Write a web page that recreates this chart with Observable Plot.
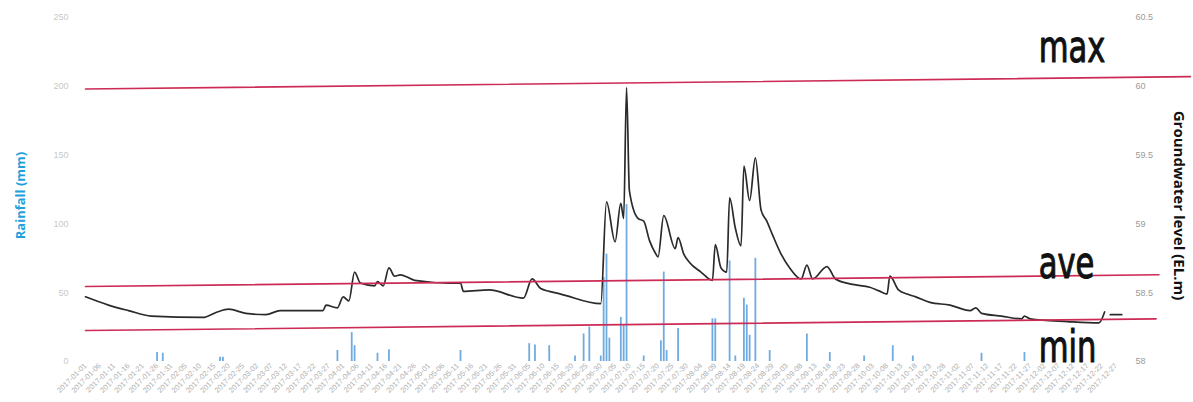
<!DOCTYPE html>
<html>
<head>
<meta charset="utf-8">
<script src="https://cdn.jsdelivr.net/npm/d3@7"></script>
<script src="https://cdn.jsdelivr.net/npm/@observablehq/plot@0.6"></script>
<style>
  html, body { margin: 0; padding: 0; background: #fff; }
  #chart svg { display: block; }
</style>
</head>
<body>
<div id="chart"></div>
<script>
// Daily groundwater level (EL.m) at the observation well, key turning points
const gwDates = [
  "2017-01-01","2017-01-09","2017-01-16","2017-01-24","2017-02-11","2017-02-16","2017-02-20","2017-02-26",
  "2017-03-05","2017-03-10","2017-03-25","2017-03-26","2017-03-30","2017-04-01","2017-04-03","2017-04-05",
  "2017-04-07","2017-04-12","2017-04-13","2017-04-15","2017-04-17","2017-04-19","2017-04-21","2017-04-26",
  "2017-05-08","2017-05-12","2017-05-13","2017-05-22","2017-06-03","2017-06-06","2017-06-09","2017-06-12",
  "2017-06-16","2017-06-30","2017-07-02","2017-07-05","2017-07-07","2017-07-08","2017-07-09","2017-07-10",
  "2017-07-13","2017-07-15","2017-07-17","2017-07-19","2017-07-20","2017-07-22","2017-07-26","2017-07-27",
  "2017-07-29","2017-07-31","2017-08-04","2017-08-08","2017-08-09","2017-08-11","2017-08-13","2017-08-14",
  "2017-08-16","2017-08-18","2017-08-19","2017-08-21","2017-08-23","2017-08-25","2017-08-27","2017-08-29",
  "2017-09-01","2017-09-04","2017-09-08","2017-09-10","2017-09-12","2017-09-17","2017-09-20","2017-09-26",
  "2017-10-02","2017-10-05","2017-10-08","2017-10-09","2017-10-12","2017-10-15","2017-10-18","2017-10-23",
  "2017-10-30","2017-11-06","2017-11-08","2017-11-10","2017-11-17","2017-11-24","2017-11-25","2017-11-27",
  "2017-12-10","2017-12-21","2017-12-23","2017-12-24","2017-12-25","2017-12-29"
];
const gwLevels = [
  58.47, 58.41, 58.37, 58.33, 58.32, 58.36, 58.38, 58.35,
  58.34, 58.37, 58.37, 58.41, 58.39, 58.47, 58.44, 58.65,
  58.57, 58.55, 58.58, 58.55, 58.68, 58.62, 58.63, 58.59,
  58.57, 58.57, 58.51, 58.52, 58.46, 58.60, 58.53, 58.51,
  58.49, 58.42, 59.16, 58.87, 59.15, 59.04, 59.99, 59.24,
  59.04, 59.02, 58.88, 58.79, 58.76, 59.06, 58.82, 58.90,
  58.78, 58.72, 58.65, 58.59, 58.85, 58.68, 58.65, 59.19,
  58.97, 58.84, 59.42, 59.17, 59.48, 59.10, 59.02, 58.92,
  58.78, 58.68, 58.60, 58.70, 58.60, 58.69, 58.60, 58.56,
  58.54, 58.515, 58.49, 58.62, 58.52, 58.49, 58.47, 58.43,
  58.41, 58.37, 58.39, 58.35, 58.33, 58.31, 58.33, 58.31,
  58.29, 58.28, 58.36, null, 58.34, 58.34
];

// Daily rainfall (mm), rain days only
const rainDates = [
  "2017-01-26","2017-01-28","2017-02-17","2017-02-18","2017-03-30","2017-04-04","2017-04-05","2017-04-13",
  "2017-04-17","2017-05-12","2017-06-05","2017-06-07","2017-06-12","2017-06-21","2017-06-24","2017-06-26",
  "2017-06-30","2017-07-01","2017-07-02","2017-07-03","2017-07-07","2017-07-08","2017-07-09","2017-07-15",
  "2017-07-21","2017-07-22","2017-07-23","2017-07-27","2017-08-08","2017-08-09","2017-08-14","2017-08-16",
  "2017-08-19","2017-08-20","2017-08-21","2017-08-23","2017-08-28","2017-09-10","2017-09-18","2017-09-30",
  "2017-10-10","2017-10-17","2017-11-10","2017-11-25"
];
const rainMm = [
  6.5, 6, 3, 3, 8, 21, 11.5, 6,
  8.5, 8, 13, 12, 11.5, 4, 20, 25,
  4, 61, 78, 17, 32, 26, 114, 4,
  15, 65, 8, 24, 31, 31, 73, 4,
  46, 41, 19, 75, 8, 20, 6.5, 4,
  11.5, 4, 6, 6.5
];

// Reference levels (EL.m): maximum, average and minimum
const refNames = ["max", "ave", "min"];
const refStartDates = ["2017-01-01", "2017-01-01", "2017-01-01"];
const refEndDates = ["2018-01-22", "2018-01-11", "2018-01-10"];
const refStartLevels = [59.98, 58.545, 58.225];
const refEndLevels = [60.07, 58.63, 58.31];
const tagDate = "2017-11-30";
const tagLevels = [60.28, 58.71, 58.10];

// Axis ticks
const rainTicks = [0, 50, 100, 150, 200, 250];
const levelTicks = [58, 58.5, 59, 59.5, 60, 60.5];
const levelTickLabels = ["58", "58.5", "59", "59.5", "60", "60.5"];
const xTickStart = "2017-01-01", xTickEnd = "2018-01-01", xTickStepDays = 5;

// Both y axes share one pixel range: rainfall 0–250 mm ↔ level 58–60.5 m
const levelBase = 58, levelPerMm = 0.01;
const toY = lv => (lv - levelBase) / levelPerMm;
const parse = d3.utcParse("%Y-%m-%d");

const gw = gwDates.map((d, i) => ({date: parse(d), y: gwLevels[i] == null ? NaN : toY(gwLevels[i])}));
const rain = rainDates.map((d, i) => ({date: parse(d), mm: rainMm[i]}));
const refs = refNames.flatMap((name, i) => [
  {name, date: parse(refStartDates[i]), y: toY(refStartLevels[i])},
  {name, date: parse(refEndDates[i]), y: toY(refEndLevels[i])}
]);
const tags = refNames.map((name, i) => ({name, date: parse(tagDate), y: toY(tagLevels[i])}));
const xTicks = d3.utcDay.range(parse(xTickStart), parse(xTickEnd), xTickStepDays);

const chart = Plot.plot({
  width: 1193,
  height: 402,
  marginLeft: 85,
  marginRight: 66,
  marginTop: 17,
  marginBottom: 41,
  style: {fontFamily: "'Liberation Sans', Arial, sans-serif", background: "#fff"},
  x: {type: "utc", domain: [parse("2017-01-01"), parse("2017-12-31")]},
  y: {domain: [0, 250]},
  marks: [
    Plot.axisX({
      ticks: xTicks, tickFormat: d3.utcFormat("%Y-%m-%d"), tickRotate: -45,
      tickSize: 0, tickPadding: 3, fontSize: 7.5, fill: "#b0b0b0", label: null
    }),
    Plot.axisY({
      anchor: "left", ticks: rainTicks, tickSize: 0, tickPadding: 17,
      fontSize: 9, fill: "#c8c8c8", label: null
    }),
    Plot.axisY({
      anchor: "right", ticks: levelTicks.map(toY), tickFormat: (d, i) => levelTickLabels[i],
      tickSize: 0, tickPadding: 8, fontSize: 9, fill: "#9a9a9a", label: null
    }),
    Plot.ruleX(rain, {x: "date", y1: 0, y2: "mm", stroke: "#6fabe0", strokeWidth: 1.8}),
    Plot.line(gw, {x: "date", y: "y", stroke: "#2a2a2a", strokeWidth: 1.7, curve: "monotone-x"}),
    Plot.line(refs, {x: "date", y: "y", z: "name", stroke: "#cc2b55", strokeWidth: 1.6}),
    Plot.text(tags, {
      x: "date", y: "y", text: "name", textAnchor: "start", fontSize: 34,
      fontFamily: "'Liberation Sans Narrow', 'Arial Narrow', 'DejaVu Sans Condensed', sans-serif",
      fill: "#111", stroke: "#111", strokeWidth: 0.8
    }),
    Plot.text(["Rainfall (mm)"], {
      frameAnchor: "left", text: d => d, rotate: -90, textAnchor: "middle", dx: -65, dy: 6,
      fontSize: 13, fontWeight: "bold", fontFamily: "'Open Sans', sans-serif", fill: "#22a0dc"
    }),
    Plot.text(["Groundwater level (EL.m)"], {
      frameAnchor: "right", text: d => d, rotate: 90, textAnchor: "middle", dx: 51, dy: 16,
      fontSize: 15, fontWeight: "bold", fontFamily: "'Open Sans', sans-serif", fill: "#111"
    })
  ]
});

document.getElementById("chart").append(chart);

// Stretch the max/ave/min tags vertically for a tall condensed look
chart.querySelectorAll("text").forEach(el => {
  if (!refNames.includes(el.textContent)) return;
  const t = el.getAttribute("transform") || "";
  const x = +el.getAttribute("x") || 0, y = +el.getAttribute("y") || 0;
  el.setAttribute("transform", `${t} translate(${x},${y}) scale(1,1.3) translate(${-x},${-y})`);
});
</script>
</body>
</html>
